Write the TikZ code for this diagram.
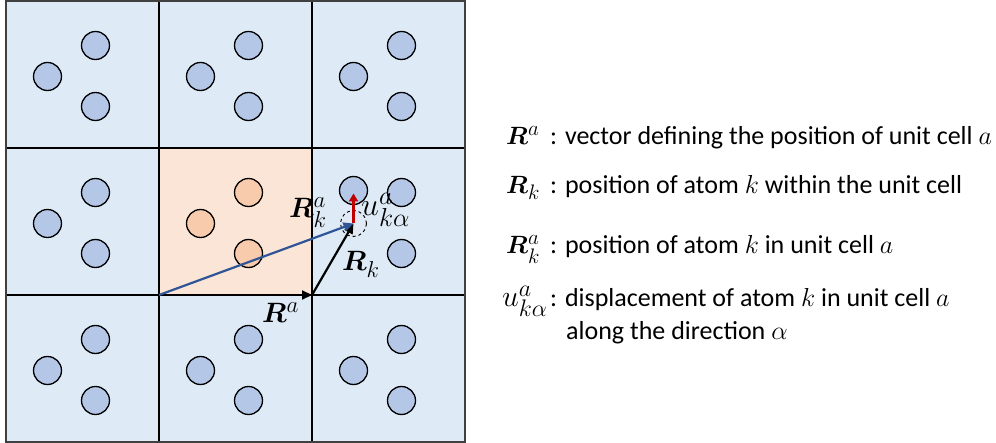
\RequirePackage{fix-cm}
\documentclass[tikz,border=0pt]{standalone}
\usepackage{amsmath}
\usepackage{bm}
\usepackage{fontspec}
\setmainfont{Carlito}
\usetikzlibrary{arrows.meta,positioning,calc}
\DeclareMathSizes{28}{28}{23}{18}
\DeclareMathSizes{25}{25}{21}{16}
\DeclareMathSizes{26}{26}{21}{16}
\DeclareMathSizes{30}{30}{24}{18}
\DeclareMathSizes{32}{32}{26}{20}
\definecolor{cellblue}{HTML}{DEEBF7}
\definecolor{cellorange}{HTML}{FBE5D6}
\definecolor{atomblue}{HTML}{B4C7E7}
\definecolor{atomorange}{HTML}{F8CBAD}
\definecolor{vecblue}{HTML}{2F5597}
\definecolor{vecred}{HTML}{C00000}
\definecolor{framegray}{HTML}{404040}
\tikzset{
  >={Triangle[length=10pt, width=9pt]},
  cell/.style={draw, fill=cellblue, line width=1.3pt, minimum width=153pt, minimum height=147pt, inner sep=0pt, outer sep=0pt},
  frame/.style={draw=framegray, line width=2.2pt},
  atom/.style={draw, circle, fill=atomblue, line width=1.3pt, minimum size=28pt, inner sep=0pt},
  ghost/.style={draw, dashed, circle, fill=atomblue!40, line width=0.9pt, minimum size=26pt, inner sep=0pt},
  vec/.style={->, line width=2.2pt},
  lbl/.style={inner sep=0pt, font=\fontsize{28}{32}\selectfont},
  key/.style={inner sep=0pt, anchor=base west, font=\fontsize{25}{29}\selectfont},
  txt/.style={inner sep=0pt, anchor=base west, font=\fontsize{26}{30}\selectfont},
}

\begin{document}
\begin{tikzpicture}[x=1pt, y=-1pt]
  \useasboundingbox (0,0) rectangle (996,443);

  % unit cells
  \foreach \i in {0,1,2}
    \foreach \j in {0,1,2}
      \node[cell] (c\i\j) at ({82.5+153*\i},{74.5+147*\j}) {};
  \node[cell, fill=cellorange] (home) at (c11) {};
  \draw[frame] (c00.north west) rectangle (c22.south east);

  % atoms
  \foreach \i/\j in {0/0,1/0,2/0,0/1,2/1,0/2,1/2,2/2} {
    \node[atom] (up\i\j) at ($(c\i\j)+(13,-29)$) {};
    \node[atom] (lo\i\j) at ($(c\i\j)+(13,32)$) {};
  }
  \foreach \i/\j in {0/0,1/0,2/0,0/1,0/2,1/2,2/2}
    \node[atom] (le\i\j) at ($(c\i\j)+(-35,2)$) {};
  \node[atom, fill=atomorange] (up11) at ($(home)+(13,-29)$) {};
  \node[atom, fill=atomorange] (lo11) at ($(home)+(13,32)$) {};
  \node[atom, fill=atomorange] (le11) at ($(home)+(-35,2)$) {};
  \node[ghost] (eq) at ($(c21)+(-35,2)$) {};
  \node[atom] (dis) at ($(c21)+(-35,-31)$) {};

  % vectors
  \coordinate (O) at (home.south west);
  \coordinate (P) at (home.south east);
  \draw[vec] (O) -- (P);
  \draw[vec] (P) -- (eq.center);
  \draw[vec, vecblue] (O) -- (eq.center);
  \draw[vec, vecred, line width=2.6pt, >={Triangle[length=8pt, width=9pt]}, shorten >=3pt] (eq.center) -- (dis.center);

  \node[lbl, anchor=base west] (lRa) at (262,323) {$\bm{R}^{a}$};
  \node[lbl, anchor=base west] (lRk) at (342,271) {$\bm{R}_{k}$};
  \node[lbl, anchor=base west] (lRka) at (289,218) {$\bm{R}^{a}_{k}$};
  \node[lbl, anchor=base west, font=\fontsize{32}{36}\selectfont] (lu) at (361,216) {$u^{a}_{k\alpha}$};

  % legend
  \node[key] (k1) at (506,145) {$\bm{R}^{a}$};
  \node[txt] (t1) at (550,145) {: vector defining the position of unit cell $a$};
  \node[key] (k2) at (506,194) {$\bm{R}_{k}$};
  \node[txt] (t2) at (550,194) {: position of atom $k$ within the unit cell};
  \node[key] (k3) at (506,254) {$\bm{R}^{a}_{k}$};
  \node[txt] (t3) at (550,254) {: position of atom $k$ in unit cell $a$};
  \node[key, font=\fontsize{30}{34}\selectfont] (k4) at (502,307) {$u^{a}_{k\alpha}$};
  \node[txt] (t4) at (550,307) {: displacement of atom $k$ in unit cell $a$};
  \node[txt] (t5) at (566,340) {along the direction $\alpha$};
\end{tikzpicture}
\end{document}
